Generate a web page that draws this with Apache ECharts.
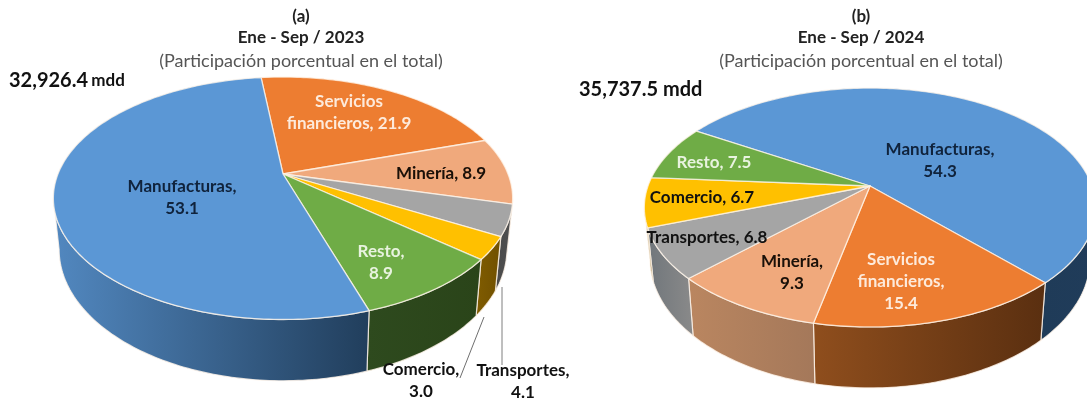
<!DOCTYPE html>
<html><head><meta charset="utf-8">
<style>html,body{margin:0;padding:0;background:#fff}#c{width:1087px;height:406px}</style>
<script src="https://cdn.jsdelivr.net/npm/echarts@6/dist/echarts.min.js"></script>
</head><body><div id="c"></div>
<script>
// ---- data ----
const names2023 = ['Servicios financieros','Minería','Transportes','Comercio','Resto','Manufacturas'];
const values2023 = [21.9, 8.9, 4.1, 3.0, 8.9, 53.1];
const names2024 = ['Manufacturas','Servicios financieros','Minería','Transportes','Comercio','Resto'];
const values2024 = [54.3, 15.4, 9.3, 6.8, 6.7, 7.5];
const total2023 = '32,926.4';
const total2024 = '35,737.5 mdd';

// ---- styling / layout ----
const FONT = 'Lato, "Open Sans", sans-serif';
const faceColor = {
  'Manufacturas':'#5b97d5','Servicios financieros':'#ed7d31','Minería':'#f0a97c',
  'Transportes':'#a5a5a5','Comercio':'#ffc000','Resto':'#6fac46'
};
const wallColor = {
  'Manufacturas':['#5288c0','#213e5c'],'Servicios financieros':['#8f4e1d','#5a2f10'],
  'Minería':['#ba8660','#a4785a'],'Transportes':['#70767b','#8a8a8a'],
  'Comercio':['#805c00','#705000'],'Resto':['#2e4a1e','#2a4419']
};
const labelStyleFor = {
  'Manufacturas':'#10233c','Servicios financieros':'#fdeadb','Minería':'#1a1008',
  'Transportes':'#111','Comercio':'#111','Resto':'#e8f3df'
};
const pieA = {names:names2023, values:values2023, cx:283, cy:174, R:225, S:116.4, k:0.2, start:-6.7, depth:49, shrink:0.975,
  wallOverride:{'Transportes':['#4a4a4a','#505050']}, labels:{
  'Servicios financieros':{x:349,y:113,sep:' '},
  'Minería':{x:441,y:174,sep:' '},
  'Manufacturas':{x:182,y:198,sep:'\n'},
  'Resto':{x:381,y:263,sep:'\n'},
  'Comercio':{x:421,y:381,sep:'\n',fill:'#111'},
  'Transportes':{x:523,y:382,sep:'\n',fill:'#111'}
}};
const pieB = {names:names2024, values:values2024, cx:870, cy:186, R:222, S:115.6, k:0.18, start:-58.8, depth:50, shrink:0.975,
  wallOverride:{'Manufacturas':['#1f3b58','#203c5a']}, labels:{
  'Manufacturas':{x:940,y:161,sep:'\n'},
  'Servicios financieros':{x:901,y:282,sep:'\n'},
  'Minería':{x:792,y:273,sep:'\n'},
  'Transportes':{x:707,y:238,sep:' '},
  'Comercio':{x:702,y:198,sep:' '},
  'Resto':{x:714,y:163,sep:' ',}
}};

function proj(p, deg){
  const t = deg*Math.PI/180, u = Math.sin(t), v = -Math.cos(t), d = 1 - p.k*v;
  return {x:p.cx + p.R*u/d, y:p.cy + p.S*v/d, d};
}
function lower(p, deg){
  const q = proj(p,deg);
  return [p.cx + (q.x-p.cx)*p.shrink, q.y + p.depth/q.d];
}
function span(p, idx){
  const tot = p.values.reduce((a,b)=>a+b,0);
  let a = p.start;
  for(let i=0;i<idx;i++) a += p.values[i]/tot*360;
  return [a, a + p.values[idx]/tot*360];
}
function samples(a,b){
  const out=[], n=Math.max(2,Math.ceil(Math.abs(b-a)));
  for(let i=0;i<=n;i++) out.push(a+(b-a)*i/n);
  return out;
}
function renderFaces(p){
  return function(params, api){
    const i = params.dataIndex, name = p.names[i], [a,b] = span(p,i);
    const children = [];
    const f0 = Math.acos(-p.k)*180/Math.PI, f1 = 360-f0;
    [-360,0,360].forEach(off=>{
      const s = Math.max(a,f0+off), e = Math.min(b,f1+off);
      if(e<=s) return;
      const deg = samples(s,e);
      const top = deg.map(d=>{const q=proj(p,d);return [q.x,q.y];});
      const bot = deg.map(d=>lower(p,d)).reverse();
      const c = p.wallOverride[name] || wallColor[name];
      children.push({type:'polygon',shape:{points:top.concat(bot)},
        style:{fill:new echarts.graphic.LinearGradient(0,0,1,0,[{offset:0,color:c[0]},{offset:1,color:c[1]}]),
          stroke:'rgba(255,245,235,0.8)',lineWidth:1.2}});
    });
    const rim = samples(a,b).map(d=>{const q=proj(p,d);return [q.x,q.y];});
    children.push({type:'polygon',shape:{points:[[p.cx,p.cy]].concat(rim)},
      style:{fill:faceColor[name],stroke:'rgba(255,245,235,0.75)',lineWidth:1.3,lineJoin:'round'}});
    return {type:'group',children};
  };
}
function renderLabels(p){
  return function(params, api){
    const i = params.dataIndex, name = p.names[i], l = p.labels[name];
    const head = name.replace(' ','\n');
    const txt = head + ',' + l.sep + p.values[i].toFixed(1);
    return {type:'text',z2:10,style:{x:l.x,y:l.y,text:txt,align:'center',verticalAlign:'middle',
      fill:l.fill||labelStyleFor[name],font:'bold 17px '+FONT,lineHeight:22}};
  };
}
function pieSeries(p){
  return [
    {type:'custom',coordinateSystem:'none',silent:true,animation:false,clip:false,z:2,
      data:p.values.map(v=>[v]),renderItem:renderFaces(p)},
    {type:'custom',coordinateSystem:'none',silent:true,animation:false,clip:false,z:5,
      data:p.values.map(v=>[v]),renderItem:renderLabels(p)}
  ];
}
function titleAt(x,y,text,weight,size,color){
  return {text,left:x,top:y,textAlign:'center',textVerticalAlign:'middle',padding:0,
    textStyle:{fontFamily:FONT,fontWeight:weight,fontSize:size,color}};
}
const chart = echarts.init(document.getElementById('c'),null,{renderer:'canvas'});
chart.setOption({
  animation:false,
  backgroundColor:'#fff',
  title:[
    titleAt(301,17,'(a)','bold',17,'#222'),
    titleAt(301,38,'Ene - Sep / 2023','bold',17,'#222'),
    titleAt(301,61,'(Participación porcentual en el total)','normal',18,'#555'),
    titleAt(861,17,'(b)','bold',17,'#222'),
    titleAt(861,38,'Ene - Sep / 2024','bold',17,'#222'),
    titleAt(861,61,'(Participación porcentual en el total)','normal',18,'#555')
  ],
  graphic:[
    {type:'text',left:9,top:71,z:10,style:{
      text:'{a|'+total2023+'} {b|mdd}',
      rich:{a:{fill:'#111',fontSize:20,fontWeight:'bold',fontFamily:'Lato'},
            b:{fontSize:17,fontWeight:'bold',fontFamily:'Lato',fill:'#111'}}}},
    {type:'text',left:579,top:80,z:10,style:{text:total2024,font:'bold 20px '+FONT,fill:'#111'}},
    {type:'line',z:10,shape:{x1:484,y1:317,x2:460,y2:378},style:{stroke:'#6f6f6f',lineWidth:1}},
    {type:'line',z:10,shape:{x1:502,y1:287,x2:502,y2:365},style:{stroke:'#7f7f7f',lineWidth:1}}
  ],
  series:[...pieSeries(pieA),...pieSeries(pieB)]
});
</script></body></html>
